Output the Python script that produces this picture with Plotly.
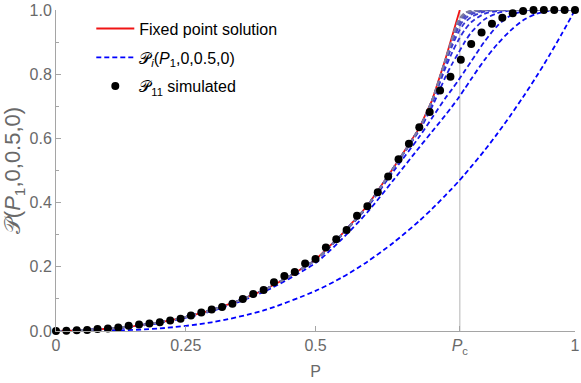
import plotly.graph_objects as go

# critical point on the x axis
PC = 0.778

# fixed point solution (red)
red_x = [0, 0.05, 0.1, 0.15, 0.2, 0.25, 0.3, 0.35, 0.4, 0.45, 0.5, 0.55, 0.6, 0.65,
         0.7, 0.725, 0.75, 0.765, 0.778]
red_y = [0, 0.002, 0.007, 0.015, 0.027, 0.043, 0.065, 0.093, 0.127, 0.17, 0.222, 0.3,
         0.39, 0.508, 0.632, 0.72, 0.845, 0.925, 1.0]

# grid for the iterated curves P_i
grid_x = [0, 0.1, 0.2, 0.3, 0.4, 0.5, 0.55, 0.6, 0.65,
          0.7, 0.725, 0.75, 0.7625, 0.775, 0.7875, 0.8, 0.825, 0.85, 0.875, 0.9,
          0.925, 0.95, 0.975, 1.0]

p1 = [0, 0.001, 0.008, 0.027, 0.064, 0.125, 0.166, 0.216, 0.275,
      0.343, 0.381, 0.422, 0.443, 0.465, 0.488, 0.512, 0.561, 0.614, 0.670, 0.729,
      0.791, 0.857, 0.927, 1.0]
p2 = [0, 0.006, 0.025, 0.062, 0.122, 0.212, 0.285, 0.37, 0.47,
      0.572, 0.622, 0.672, 0.698, 0.725, 0.755, 0.785, 0.843, 0.893, 0.935, 0.968,
      0.988, 0.997, 1.0, 1.0]
p3 = [0, 0.007, 0.027, 0.065, 0.127, 0.222, 0.298, 0.386, 0.497,
      0.605, 0.665, 0.725, 0.752, 0.78, 0.81, 0.84, 0.9, 0.95, 0.982, 0.996,
      1, 1, 1, 1]
low = [0, 0.007, 0.027, 0.065, 0.127, 0.222, 0.3, 0.39, 0.507]
p4 = low + [0.625, 0.7, 0.79, 0.83, 0.865, 0.9, 0.93, 0.97, 0.99, 0.998, 1, 1, 1, 1, 1]
p5 = low + [0.629, 0.712, 0.818, 0.865, 0.905, 0.938, 0.962, 0.988, 0.997, 1, 1, 1, 1, 1, 1]
p6 = low + [0.631, 0.716, 0.83, 0.885, 0.93, 0.96, 0.978, 0.995, 1, 1, 1, 1, 1, 1, 1]
p7 = low + [0.632, 0.718, 0.836, 0.895, 0.943, 0.972, 0.986, 0.998, 1, 1, 1, 1, 1, 1, 1]
p8 = low + [0.632, 0.719, 0.839, 0.9, 0.952, 0.979, 0.991, 0.999, 1, 1, 1, 1, 1, 1, 1]
p9 = low + [0.632, 0.72, 0.841, 0.903, 0.958, 0.984, 0.994, 1, 1, 1, 1, 1, 1, 1, 1]
p10 = low + [0.632, 0.72, 0.842, 0.905, 0.962, 0.987, 0.996, 1, 1, 1, 1, 1, 1, 1, 1]
p11 = low + [0.632, 0.72, 0.843, 0.906, 0.965, 0.989, 0.997, 1, 1, 1, 1, 1, 1, 1, 1]
p12 = low + [0.632, 0.72, 0.844, 0.907, 0.967, 0.991, 0.998, 1, 1, 1, 1, 1, 1, 1, 1]
curves = [p1, p2, p3, p4, p5, p6, p7, p8, p9, p10, p11, p12]

# simulated P_11, sampled every 0.02
sim_y = [0, 0.001, 0.002, 0.003, 0.006, 0.008, 0.011, 0.016, 0.02, 0.023,
         0.027, 0.033, 0.038, 0.048, 0.058, 0.067, 0.075, 0.085, 0.10, 0.115,
         0.128, 0.152, 0.171, 0.184, 0.21, 0.224, 0.26, 0.286, 0.315, 0.359,
         0.389, 0.432, 0.481, 0.535, 0.583, 0.635, 0.682, 0.749, 0.792, 0.845,
         0.894, 0.93, 0.957, 0.976, 0.99, 0.997, 1, 1, 1, 1, 1]
sim_x = [round(i * 0.02, 2) for i in range(len(sim_y))]

x_ticks = [0, 0.25, 0.5, PC, 1]
x_labels = ["0", "0.25", "0.5", "<i>P</i><sub>c</sub>", "1"]
y_ticks = [0, 0.2, 0.4, 0.6, 0.8, 1.0]
y_labels = ["0.0", "0.2", "0.4", "0.6", "0.8", "1.0"]

FONT = "Liberation Sans, Arial, sans-serif"
GRAY = "rgb(105,105,105)"
AXIS = "rgb(165,165,165)"

fig = go.Figure()

fig.add_trace(go.Scatter(
    x=red_x, y=red_y, mode="lines", name="Fixed point solution",
    legendgroup="a",
    line=dict(color="rgb(240,20,20)", width=1.8),
))

n = len(curves)
for i, ys in enumerate(curves):
    t = i / (n - 1)
    col = "rgb(%d,%d,%d)" % (int(125 * t), int(125 * t), int(255 - 95 * t))
    fig.add_trace(go.Scatter(
        x=grid_x, y=ys, mode="lines",
        name="𝒫<sub><i>i</i></sub>(<i>P</i><sub>1</sub>,0,0.5,0)",
        legendgroup="b", showlegend=(i == 0),
        line=dict(color=col, width=1.8, dash="5px,3px", shape="spline", smoothing=0.8),
    ))

fig.add_trace(go.Scatter(
    x=sim_x, y=sim_y, mode="markers", name="𝒫<sub>11</sub> simulated",
    legendgroup="c",
    marker=dict(color="black", size=8), cliponaxis=False,
))

# vertical line at Pc
fig.add_shape(type="line", x0=PC, x1=PC, y0=0, y1=1, xref="x", yref="y",
              line=dict(color="rgb(205,205,205)", width=1.5), layer="below")

fig.update_layout(
    width=581, height=383,
    margin=dict(l=56, r=6, t=10, b=52),
    paper_bgcolor="white", plot_bgcolor="white",
    font=dict(family=FONT, size=16, color=GRAY),
    legend=dict(x=0.068, y=0.995, xanchor="left", yanchor="top",
                bgcolor="rgba(0,0,0,0)", font=dict(size=16, color="black"),
                tracegroupgap=5, itemwidth=38),
    showlegend=True,
)
fig.update_xaxes(
    range=[0, 1], tickvals=x_ticks, ticktext=x_labels, automargin=False,
    showgrid=False, zeroline=False, showline=True, linecolor=AXIS,
    ticks="inside", ticklen=5, tickcolor=AXIS,
    title=dict(text="P", font=dict(size=16, color=GRAY), standoff=10),
)
fig.update_yaxes(
    range=[0, 1], tickvals=y_ticks, ticktext=y_labels, automargin=False,
    showgrid=False, zeroline=False, showline=True, linecolor=AXIS,
    ticks="inside", ticklen=5, tickcolor=AXIS,
    minor=dict(dtick=0.1, ticks="inside", ticklen=3, tickcolor=AXIS),
    title=dict(text="𝒫(<i>P</i><sub>1</sub>,0,0.5,0)", font=dict(size=22, color=GRAY),
               standoff=4),
)

# drop the page's default body margin so the figure sits at the window corner
fig.write_html("out.html", config={"displayModeBar": False},
               post_script="document.body.style.margin='0';")
